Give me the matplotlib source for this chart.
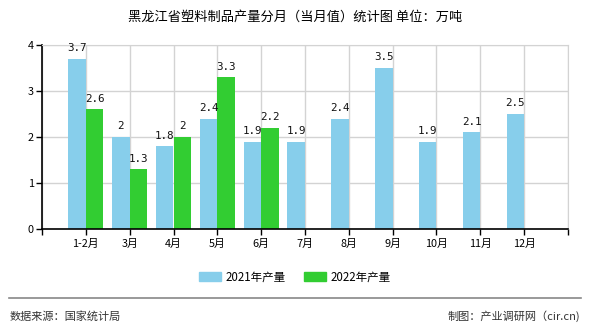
import numpy as np
import matplotlib.pyplot as plt
from matplotlib.patches import Patch
from matplotlib.lines import Line2D

plt.rcParams['font.family'] = ['Noto Sans CJK SC', 'DejaVu Sans']

months = ['1-2月', '3月', '4月', '5月', '6月', '7月', '8月', '9月', '10月', '11月', '12月']
prod_2021 = [3.7, 2.0, 1.8, 2.4, 1.9, 1.9, 2.4, 3.5, 1.9, 2.1, 2.5]
prod_2022 = [2.6, 1.3, 2.0, 3.3, 2.2]
labels_2021 = ['3.7', '2', '1.8', '2.4', '1.9', '1.9', '2.4', '3.5', '1.9', '2.1', '2.5']
labels_2022 = ['2.6', '1.3', '2', '3.3', '2.2']

c21 = '#87ceeb'
c22 = '#32cd32'
W, H = 590, 330

fig = plt.figure(figsize=(W / 100, H / 100), dpi=100, facecolor='white')
ax = fig.add_axes([42 / W, 1 - 229 / H, (568 - 42) / W, (229 - 45) / H])

x = np.arange(len(months))
bw = 0.4
ax.bar(x - bw / 2, prod_2021, bw, color=c21, zorder=2)
x2 = x[:len(prod_2022)]
ax.bar(x2 + bw / 2, prod_2022, bw, color=c22, zorder=2)

# value labels above each bar
for xi, v, s in zip(x, prod_2021, labels_2021):
    ax.text(xi - bw / 2, v + 0.12, s, ha='center', va='bottom', fontsize=7.8,
            family='DejaVu Sans Mono', color='#111111')
for xi, v, s in zip(x2, prod_2022, labels_2022):
    ax.text(xi + bw / 2, v + 0.12, s, ha='center', va='bottom', fontsize=7.8,
            family='DejaVu Sans Mono', color='#111111')

ax.set_xlim(-1, len(months))
ax.set_ylim(0, 4)
ax.set_yticks([0, 1, 2, 3, 4])
ax.set_xticks(list(x) + [-1, len(months)])
ax.set_xticklabels(months + ['', ''], fontsize=7.8)
ax.tick_params(axis='y', labelsize=7.8, length=4, width=1, pad=2)
ax.tick_params(axis='x', length=4, width=1, pad=3)
ax.grid(True, color='#d3d3d3', linewidth=1, zorder=0)
ax.set_axisbelow(True)
for side in ['top', 'right']:
    ax.spines[side].set_color('#d3d3d3')
for side in ['left', 'bottom']:
    ax.spines[side].set_color('black')
    ax.spines[side].set_linewidth(1.2)

fig.text(0.5, 1 - 17 / H, '黑龙江省塑料制品产量分月（当月值）统计图 单位：万吨',
         ha='center', va='center', fontsize=9.5)

handles = [Patch(color=c21, label='2021年产量'), Patch(color=c22, label='2022年产量')]
fig.legend(handles=handles, loc='center', bbox_to_anchor=(0.5, 1 - 277 / H),
           ncol=2, frameon=False, fontsize=8.3, handlelength=1.9, handleheight=0.8,
           columnspacing=1.6, handletextpad=0.4)

fig.add_artist(Line2D([9 / W, 581 / W], [1 - 298 / H, 1 - 298 / H],
                      color='#888888', linewidth=1.2))
fig.text(10 / W, 1 - 316 / H, '数据来源：国家统计局', ha='left', va='center',
         fontsize=8, color='#333333')
fig.text(580 / W, 1 - 316 / H, '制图：产业调研网（cir.cn)', ha='right', va='center',
         fontsize=8, color='#333333')

fig.savefig('out.png', dpi=100)
